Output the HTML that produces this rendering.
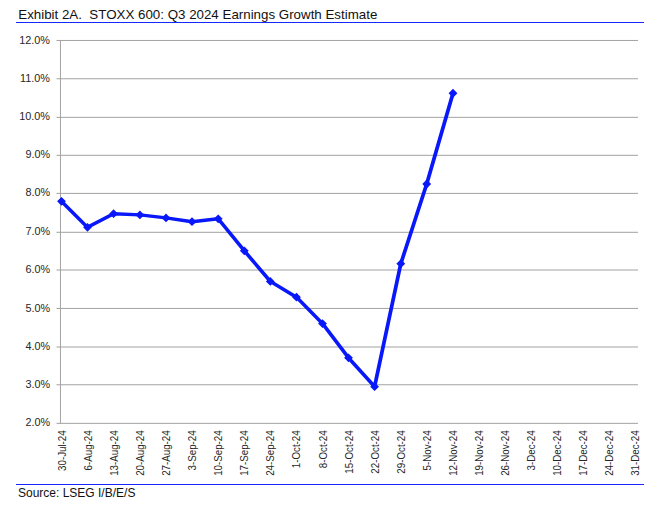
<!DOCTYPE html>
<html><head><meta charset="utf-8"><title>Exhibit 2A</title>
<style>
html,body{margin:0;padding:0;background:#fff;}
body{width:658px;height:519px;position:relative;overflow:hidden;font-family:"Liberation Sans",sans-serif;}
.t{position:absolute;left:18.25px;top:6.7px;font-size:13.333px;line-height:16px;color:#111;white-space:pre;}
.src{position:absolute;left:18px;top:485px;font-size:12px;line-height:16px;color:#111;white-space:pre;}
.r{position:absolute;left:16px;width:628px;height:1px;background:#1428ff;}
svg{position:absolute;left:0;top:0;}
svg text{font-family:"Liberation Sans",sans-serif;font-size:10px;fill:#262626;}
</style></head><body>
<div class="t">Exhibit 2A.  STOXX 600: Q3 2024 Earnings Growth Estimate</div>
<div class="r" style="top:22px"></div>
<div class="r" style="top:484px"></div>
<div class="src">Source: LSEG I/B/E/S</div>
<svg width="658" height="519" viewBox="0 0 658 519">

<g stroke="#a2a2a2" stroke-width="1" fill="none">
<line x1="56.5" y1="40.46" x2="638.0" y2="40.46"/>
<line x1="56.5" y1="78.75" x2="638.0" y2="78.75"/>
<line x1="56.5" y1="117.35" x2="638.0" y2="117.35"/>
<line x1="56.5" y1="155.30" x2="638.0" y2="155.30"/>
<line x1="56.5" y1="193.40" x2="638.0" y2="193.40"/>
<line x1="56.5" y1="232.30" x2="638.0" y2="232.30"/>
<line x1="56.5" y1="270.00" x2="638.0" y2="270.00"/>
<line x1="56.5" y1="308.45" x2="638.0" y2="308.45"/>
<line x1="56.5" y1="347.00" x2="638.0" y2="347.00"/>
<line x1="56.5" y1="384.75" x2="638.0" y2="384.75"/>
<line x1="56.5" y1="423.35" x2="638.0" y2="423.35"/>
<line x1="60.46" y1="39.96" x2="60.46" y2="423.85"/>
</g>
<text style="font-size:10.5px" transform="translate(50.0,43.51) scale(1.035,1)" text-anchor="end">12.0%</text>
<text style="font-size:10.5px" transform="translate(50.0,81.80) scale(1.035,1)" text-anchor="end">11.0%</text>
<text style="font-size:10.5px" transform="translate(50.0,120.40) scale(1.035,1)" text-anchor="end">10.0%</text>
<text style="font-size:10.5px" transform="translate(50.0,158.35) scale(1.030,1)" text-anchor="end">9.0%</text>
<text style="font-size:10.5px" transform="translate(50.0,196.45) scale(1.030,1)" text-anchor="end">8.0%</text>
<text style="font-size:10.5px" transform="translate(50.0,235.35) scale(1.030,1)" text-anchor="end">7.0%</text>
<text style="font-size:10.5px" transform="translate(50.0,273.05) scale(1.030,1)" text-anchor="end">6.0%</text>
<text style="font-size:10.5px" transform="translate(50.0,311.50) scale(1.030,1)" text-anchor="end">5.0%</text>
<text style="font-size:10.5px" transform="translate(50.0,350.05) scale(1.030,1)" text-anchor="end">4.0%</text>
<text style="font-size:10.5px" transform="translate(50.0,387.80) scale(1.030,1)" text-anchor="end">3.0%</text>
<text style="font-size:10.5px" transform="translate(50.0,426.40) scale(1.030,1)" text-anchor="end">2.0%</text>
<text transform="translate(65.80,430.3) scale(1.077,1) rotate(-90)" text-anchor="end" style="font-size:9.75px">30-Jul-24</text>
<text transform="translate(91.87,430.3) scale(1.077,1) rotate(-90)" text-anchor="end" style="font-size:9.75px">6-Aug-24</text>
<text transform="translate(117.94,430.3) scale(1.077,1) rotate(-90)" text-anchor="end" style="font-size:9.75px">13-Aug-24</text>
<text transform="translate(144.01,430.3) scale(1.077,1) rotate(-90)" text-anchor="end" style="font-size:9.75px">20-Aug-24</text>
<text transform="translate(170.08,430.3) scale(1.077,1) rotate(-90)" text-anchor="end" style="font-size:9.75px">27-Aug-24</text>
<text transform="translate(196.15,430.3) scale(1.077,1) rotate(-90)" text-anchor="end" style="font-size:9.75px">3-Sep-24</text>
<text transform="translate(222.22,430.3) scale(1.077,1) rotate(-90)" text-anchor="end" style="font-size:9.75px">10-Sep-24</text>
<text transform="translate(248.29,430.3) scale(1.077,1) rotate(-90)" text-anchor="end" style="font-size:9.75px">17-Sep-24</text>
<text transform="translate(274.36,430.3) scale(1.077,1) rotate(-90)" text-anchor="end" style="font-size:9.75px">24-Sep-24</text>
<text transform="translate(300.43,430.3) scale(1.077,1) rotate(-90)" text-anchor="end" style="font-size:9.75px">1-Oct-24</text>
<text transform="translate(326.50,430.3) scale(1.077,1) rotate(-90)" text-anchor="end" style="font-size:9.75px">8-Oct-24</text>
<text transform="translate(352.57,430.3) scale(1.077,1) rotate(-90)" text-anchor="end" style="font-size:9.75px">15-Oct-24</text>
<text transform="translate(378.64,430.3) scale(1.077,1) rotate(-90)" text-anchor="end" style="font-size:9.75px">22-Oct-24</text>
<text transform="translate(404.71,430.3) scale(1.077,1) rotate(-90)" text-anchor="end" style="font-size:9.75px">29-Oct-24</text>
<text transform="translate(430.78,430.3) scale(1.077,1) rotate(-90)" text-anchor="end" style="font-size:9.75px">5-Nov-24</text>
<text transform="translate(456.85,430.3) scale(1.077,1) rotate(-90)" text-anchor="end" style="font-size:9.75px">12-Nov-24</text>
<text transform="translate(482.92,430.3) scale(1.077,1) rotate(-90)" text-anchor="end" style="font-size:9.75px">19-Nov-24</text>
<text transform="translate(508.99,430.3) scale(1.077,1) rotate(-90)" text-anchor="end" style="font-size:9.75px">26-Nov-24</text>
<text transform="translate(535.06,430.3) scale(1.077,1) rotate(-90)" text-anchor="end" style="font-size:9.75px">3-Dec-24</text>
<text transform="translate(561.13,430.3) scale(1.077,1) rotate(-90)" text-anchor="end" style="font-size:9.75px">10-Dec-24</text>
<text transform="translate(587.20,430.3) scale(1.077,1) rotate(-90)" text-anchor="end" style="font-size:9.75px">17-Dec-24</text>
<text transform="translate(613.27,430.3) scale(1.077,1) rotate(-90)" text-anchor="end" style="font-size:9.75px">24-Dec-24</text>
<text transform="translate(639.34,430.3) scale(1.077,1) rotate(-90)" text-anchor="end" style="font-size:9.75px">31-Dec-24</text>
<path transform="scale(1.080,1)" d="M56.94,201.30 L81.02,227.30 L105.19,213.70 L129.54,214.90 L153.70,217.90 L177.78,221.70 L202.04,218.80 L226.20,250.80 L250.28,281.40 L274.54,297.20 L298.61,323.60 L322.69,357.80 L346.85,386.70 L371.11,263.70 L395.09,184.00 L419.44,93.25" fill="none" stroke="#0818fa" stroke-width="3.45" stroke-linejoin="round" stroke-linecap="round"/>
<path d="M61.50,196.90 l4.40,4.40 l-4.40,4.40 l-4.40,-4.40 z" fill="#0818fa"/>
<path d="M87.50,222.90 l4.40,4.40 l-4.40,4.40 l-4.40,-4.40 z" fill="#0818fa"/>
<path d="M113.60,209.30 l4.40,4.40 l-4.40,4.40 l-4.40,-4.40 z" fill="#0818fa"/>
<path d="M139.90,210.50 l4.40,4.40 l-4.40,4.40 l-4.40,-4.40 z" fill="#0818fa"/>
<path d="M166.00,213.50 l4.40,4.40 l-4.40,4.40 l-4.40,-4.40 z" fill="#0818fa"/>
<path d="M192.00,217.30 l4.40,4.40 l-4.40,4.40 l-4.40,-4.40 z" fill="#0818fa"/>
<path d="M218.20,214.40 l4.40,4.40 l-4.40,4.40 l-4.40,-4.40 z" fill="#0818fa"/>
<path d="M244.30,246.40 l4.40,4.40 l-4.40,4.40 l-4.40,-4.40 z" fill="#0818fa"/>
<path d="M270.30,277.00 l4.40,4.40 l-4.40,4.40 l-4.40,-4.40 z" fill="#0818fa"/>
<path d="M296.50,292.80 l4.40,4.40 l-4.40,4.40 l-4.40,-4.40 z" fill="#0818fa"/>
<path d="M322.50,319.20 l4.40,4.40 l-4.40,4.40 l-4.40,-4.40 z" fill="#0818fa"/>
<path d="M348.50,353.40 l4.40,4.40 l-4.40,4.40 l-4.40,-4.40 z" fill="#0818fa"/>
<path d="M374.60,382.30 l4.40,4.40 l-4.40,4.40 l-4.40,-4.40 z" fill="#0818fa"/>
<path d="M400.80,259.30 l4.40,4.40 l-4.40,4.40 l-4.40,-4.40 z" fill="#0818fa"/>
<path d="M426.70,179.60 l4.40,4.40 l-4.40,4.40 l-4.40,-4.40 z" fill="#0818fa"/>
<path d="M453.00,88.85 l4.40,4.40 l-4.40,4.40 l-4.40,-4.40 z" fill="#0818fa"/>
</svg></body></html>
